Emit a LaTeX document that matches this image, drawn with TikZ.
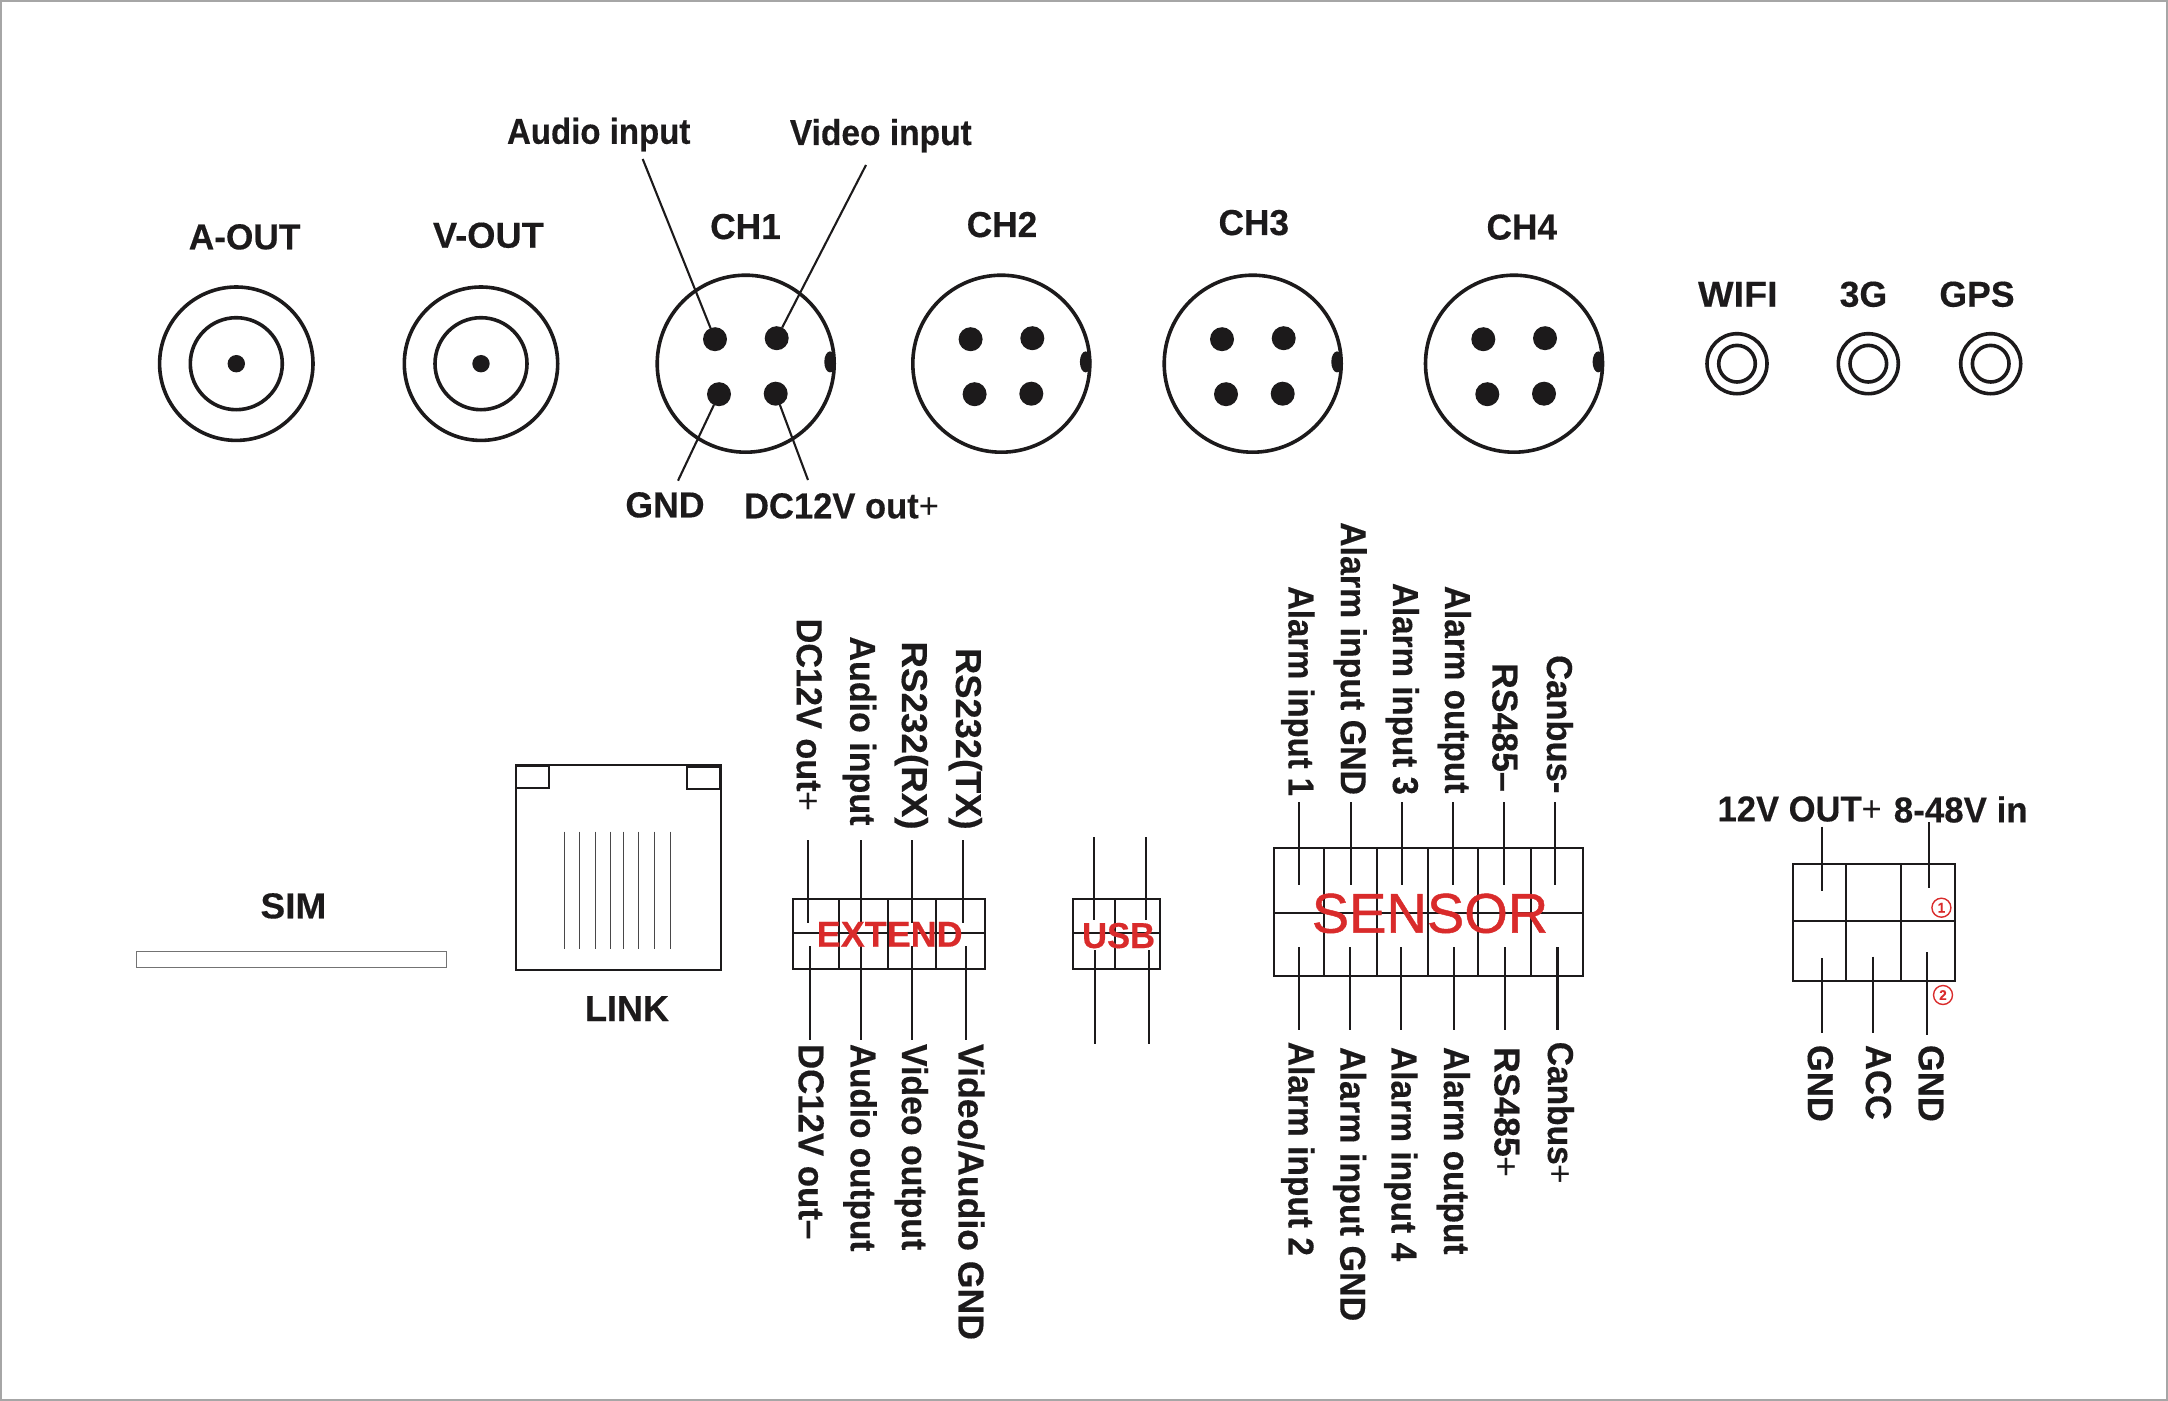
\documentclass[tikz,border=0pt]{standalone}
\usepackage{graphicx}
\usepackage{fontspec}
\setmainfont[FakeStretch=0.96,BoldFeatures={FakeBold=0.35}]{Liberation Sans}
\newfontfamily\senfont[FakeBold=0.8]{Liberation Sans}
\usetikzlibrary{calc}
\newcommand\sx[2]{\scalebox{#1}[1]{#2}}
\definecolor{ink}{HTML}{1C1A1B}
\definecolor{redtxt}{HTML}{D92B2B}
\definecolor{framegray}{HTML}{A6A6A6}
\tikzset{
  lab/.style={font=\fontsize{18}{20}\selectfont\bfseries,text=ink,inner sep=0pt,outer sep=0pt},
  hlab/.style={lab,anchor=base},
  tlab/.style={lab,rotate=-90,anchor=base east},
  blab/.style={lab,rotate=-90,anchor=base west},
  ring/.style={draw=ink,line width=1.8pt,fill=none},
  pin/.style={circle,fill=ink,inner sep=0pt,outer sep=0pt,minimum size=12pt},
  wire/.style={draw=ink,line width=1.05pt},
  thinwire/.style={draw=ink!80,line width=0.5pt},
  box/.style={draw=ink,line width=1.05pt},
  redlab/.style={font=\fontsize{18}{20}\selectfont\bfseries,text=redtxt,inner sep=0pt,anchor=base},
  numc/.style={circle,draw=redtxt,line width=0.7pt,text=redtxt,inner sep=0pt,minimum size=9.5pt,font=\fontsize{7}{8}\selectfont\bfseries}
}
\begin{document}
\begin{tikzpicture}[x=0.5pt,y=-0.5pt]
\path[use as bounding box] (0,0) rectangle (2168,1401);
\draw[framegray,line width=1pt] (1,1) rectangle (2167,1400);

% coaxial outputs
\foreach \n/\x in {aout/236.3,vout/481}{
  \draw[ring] (\x,363.7) circle (76.7);
  \draw[ring] (\x,363.7) circle (46);
  \fill[ink] (\x,363.7) circle (8.7);
}
\node[hlab] (laout) at (244.6,249.3) {\sx{1.02}{A-OUT}};
\node[hlab] (lvout) at (488.4,247.7) {\sx{1.05}{V-OUT}};

% four pin connectors
\foreach \n/\x in {c1/745.7,c2/1001.3,c3/1252.7,c4/1514}{
  \draw[ring] (\x,363.7) circle (88.5);
  \node[pin] (\n a) at ($(\x,363.7)+(-30.7,-24.5)$) {};
  \node[pin] (\n b) at ($(\x,363.7)+(31,-25.5)$) {};
  \node[pin] (\n c) at ($(\x,363.7)+(-26.7,30.5)$) {};
  \node[pin] (\n d) at ($(\x,363.7)+(30,30)$) {};
  \fill[ink] (\x+84.3,361.9) ellipse (5.7 and 10.5);
}
\node[hlab] (lc1) at (745.5,239) {\sx{1.02}{CH1}};
\node[hlab] (lc2) at (1002,237) {\sx{1.02}{CH2}};
\node[hlab] (lc3) at (1253.8,235) {\sx{1.02}{CH3}};
\node[hlab] (lc4) at (1521.8,239.5) {\sx{1.02}{CH4}};

\node[hlab] (laud) at (598.7,143.8) {\sx{.955}{Audio input}};
\node[hlab] (lvid) at (880.8,145) {\sx{.97}{Video input}};
\node[hlab] (lgnd) at (665,517.3) {\sx{1.03}{GND}};
\node[hlab] (ldc) at (841.5,518.3) {DC12V out{\mdseries+}};
\coordinate (faud) at (642.7,159);
\coordinate (fvid) at (866,165);
\coordinate (fgnd) at (678,480.7);
\coordinate (fdc) at (808,480);
\draw[wire] (faud) -- (c1a);
\draw[wire] (fvid) -- (c1b);
\draw[wire] (fgnd) -- (c1c);
\draw[wire] (fdc) -- (c1d);

% small antenna sockets
\foreach \x in {1737,1868.3,1990.7}{
  \draw[ring] (\x,363.7) circle (30);
  \draw[ring] (\x,363.7) circle (18.3);
}
\node[hlab] (lwifi) at (1737.8,306.7) {\sx{1.09}{WIFI}};
\node[hlab] (l3g) at (1863.4,306.7) {\sx{1.03}{3G}};
\node[hlab] (lgps) at (1977,306.7) {\sx{1.03}{GPS}};

% SIM
\draw[draw=black!55,line width=0.65pt] (136.7,951.7) rectangle (446.7,967.7);
\node[hlab] (lsim) at (293.4,918.3) {\sx{1.07}{SIM}};

% LINK
\draw[box] (515.8,765) rectangle (721,970);
\draw[box] (515.8,766) rectangle (549.3,787.7);
\draw[box] (686.6,767.3) rectangle (720,789);
\foreach \x in {564,579.6,595.2,610.4,623.3,638.9,654.5,670}{
  \draw[thinwire] (\x,831.7) -- (\x,949.3);
}
\node[hlab] (llink) at (627,1021) {\sx{1.04}{LINK}};

% EXTEND
\draw[box] (792.7,899) rectangle (985,969);
\draw[box] (792.7,932.7) -- (985,932.7);
\foreach \x in {839,887.7,936.4}{\draw[box] (\x,899) -- (\x,969);}
\foreach \x in {808.3,860.6,911.6,963}{\draw[wire] (\x,840) -- (\x,922.7);}
\foreach \x in {809.7,861,911.6,965.8}{\draw[wire] (\x,946) -- (\x,1040);}
\node[redlab] (lext) at (889.7,946.7) {\sx{1.04}{EXTEND}};
\node[tlab] (e1) at (796.8,811.6) {\sx{.99}{DC12V out{\mdseries+}}};
\node[tlab] (e2) at (850.2,825.5) {\sx{.985}{Audio input}};
\node[tlab] (e3) at (902,829.6) {\sx{1.065}{RS232(RX)}};
\node[tlab] (e4) at (956,829.6) {\sx{1.05}{RS232(TX)}};
\node[blab] (e5) at (798.7,1044) {\sx{1.007}{DC12V out–}};
\node[blab] (e6) at (850.7,1044) {\sx{.965}{Audio output}};
\node[blab] (e7) at (902,1044) {\sx{.98}{Video output}};
\node[blab] (e8) at (958.5,1044) {\sx{1.03}{Video/Audio GND}};

% USB
\draw[box] (1072.7,899) rectangle (1160,969);
\draw[box] (1072.7,932.7) -- (1160,932.7);
\draw[box] (1115,899) -- (1115,969);
\foreach \x in {1094.3,1145.8}{\draw[wire] (\x,837.3) -- (\x,920);}
\foreach \x in {1095.2,1149}{\draw[wire] (\x,950) -- (\x,1044);}
\node[redlab] (lusb) at (1118.6,948) {USB};

% SENSOR
\draw[box] (1274,848) rectangle (1582.6,976);
\draw[box] (1274,912.8) -- (1582.6,912.8);
\foreach \x in {1324.2,1377,1428.3,1478,1530.8}{\draw[box] (\x,848) -- (\x,976);}
\foreach \x in {1299,1350.9,1402.1,1453.4,1504,1554.9}{\draw[wire] (\x,802) -- (\x,885.2);}
\foreach \x in {1299,1350.4,1401,1454.4,1505.2,1557.5}{\draw[wire] (\x,947) -- (\x,1029.6);}
\node[anchor=base,inner sep=0pt,text=redtxt,font=\senfont\fontsize{28}{30}\selectfont] (lsen) at (1430,932.7) {SENSOR};
\node[tlab] (s1) at (1288.5,796) {\sx{.95}{Alarm input 1}};
\node[tlab] (s2) at (1340.8,795) {\sx{.98}{Alarm input GND}};
\node[tlab] (s3) at (1393,795) {\sx{.96}{Alarm input 3}};
\node[tlab] (s4) at (1445,793.4) {\sx{.965}{Alarm output}};
\node[tlab] (s5) at (1492.5,791.8) {\sx{1.03}{RS485–}};
\node[tlab] (s6) at (1547,793.4) {Canbus-};
\node[blab] (s7) at (1288.5,1041.8) {\sx{.97}{Alarm input 2}};
\node[blab] (s8) at (1340.3,1047) {\sx{.985}{Alarm input GND}};
\node[blab] (s9) at (1391.5,1047) {\sx{.97}{Alarm input 4}};
\node[blab] (s10) at (1444,1047) {\sx{.965}{Alarm output}};
\node[blab] (s11) at (1494.5,1047) {\sx{1.04}{RS485{\mdseries+}}};
\node[blab] (s12) at (1548,1041.8) {\sx{.97}{Canbus{\mdseries+}}};

% power
\draw[box] (1793.4,864.3) rectangle (1955,981);
\draw[box] (1793.4,921.4) -- (1955,921.4);
\foreach \x in {1846.2,1901}{\draw[box] (\x,864.3) -- (\x,981);}
\draw[wire] (1821.6,826.5) -- (1821.6,891.3);
\draw[wire] (1929.3,822.4) -- (1929.3,887.8);
\draw[wire] (1822,958) -- (1822,1033);
\draw[wire] (1873.4,956.6) -- (1873.4,1033);
\draw[wire] (1927.2,952) -- (1927.2,1034.7);
\node[hlab,anchor=base west] (p1) at (1717.6,821.4) {12V OUT{\mdseries+}};
\node[hlab,anchor=base west] (p2) at (1893.8,822.4) {\sx{1.01}{8-48V in}};
\node[blab] (p3) at (1807.9,1045) {GND};
\node[blab] (p4) at (1866,1045) {ACC};
\node[blab] (p5) at (1918.7,1045) {GND};
\node[numc] (n1) at (1941.4,907.7) {1};
\node[numc] (n2) at (1943,995) {2};
\end{tikzpicture}
\end{document}
